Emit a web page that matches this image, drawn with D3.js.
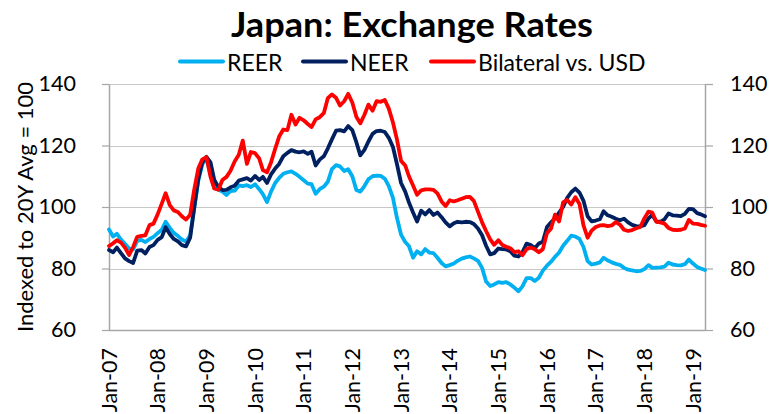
<!DOCTYPE html>
<html>
<head>
<meta charset="utf-8">
<script src="https://cdn.jsdelivr.net/npm/d3@7"></script>
<style>
  body { margin: 0; background: #fff; }
  svg text { font-family: Lato, "Open Sans", sans-serif; fill: #000; }
</style>
</head>
<body>
<svg id="chart" width="777" height="414"></svg>
<script>
// monthly, Jan-07 .. Apr-19
const months = d3.timeMonth.range(new Date(2007, 0, 1), new Date(2019, 4, 1));

const reer = [
  92.7, 90.4, 91.3, 89.4, 88.0, 86.5, 86.2, 89.0, 89.3, 88.6, 89.6, 90.3,
  91.5, 92.6, 95.2, 93.2, 91.6, 90.6, 89.4, 88.8, 90.8, 99.5, 108.5, 113.8,
  116.0, 110.5, 106.4, 105.6, 105.0, 103.9, 105.2, 105.3, 107.0, 106.8, 107.1, 106.5,
  107.4, 105.8, 104.2, 101.6, 105.0, 107.8, 109.5, 110.8, 111.3, 111.6, 110.8, 109.8,
  108.7, 107.6, 107.4, 104.3, 105.8, 106.6, 108.2, 112.3, 113.6, 113.2, 111.7, 112.3,
  110.0, 105.5, 105.0, 106.8, 109.0, 110.0, 110.2, 110.1, 109.2, 106.8, 103.0, 96.5,
  91.0, 88.6, 87.3, 83.5, 85.6, 84.6, 86.3, 85.2, 85.0, 83.5, 81.8, 80.7,
  81.1, 81.6, 82.5, 83.2, 83.6, 83.9, 83.3, 82.5, 80.2, 75.8, 74.3, 74.8,
  75.6, 75.3, 75.6, 74.8, 73.8, 72.6, 74.2, 76.9, 76.9, 75.9, 77.0, 79.3,
  80.9, 82.2, 83.8, 85.2, 87.4, 89.0, 90.7, 90.4, 89.6, 87.0, 82.4, 81.3,
  81.6, 82.0, 83.5, 82.6, 82.0, 81.5, 81.2, 80.2, 79.6, 79.4, 79.1, 79.2,
  79.8, 81.1, 80.2, 80.3, 80.4, 80.6, 81.9, 81.3, 81.1, 81.0, 81.4, 82.9,
  81.6, 80.5, 80.0, 79.5
];

const neer = [
  86.0, 85.3, 86.8, 85.0, 83.3, 82.4, 81.8, 85.8, 86.0, 84.9, 87.0, 87.6,
  89.3, 90.2, 93.4, 91.2, 89.6, 88.8, 87.6, 87.2, 90.0, 99.5, 109.0, 114.5,
  116.3, 114.5, 108.8, 106.5, 105.5, 105.6, 106.4, 106.9, 108.6, 109.0, 109.4, 108.6,
  110.1, 108.8, 109.8, 107.8, 110.6, 112.5, 114.0, 116.5, 117.6, 118.5, 118.0, 117.8,
  118.1, 117.3, 118.0, 113.5, 115.4, 116.5, 119.0, 122.0, 124.8, 125.0, 124.6, 126.3,
  125.0, 121.0, 116.8, 118.6, 121.3, 123.8, 124.7, 124.8, 124.4, 122.5, 119.5, 114.0,
  107.8, 105.0, 101.5, 98.2, 95.3, 98.8, 97.6, 99.0, 97.4, 98.2, 96.7, 95.0,
  93.7, 94.7, 95.2, 95.0, 95.2, 95.1, 94.5, 93.0, 90.8, 87.4, 84.6, 85.0,
  86.5, 86.3, 86.2, 85.6, 84.2, 83.9, 85.3, 88.1, 87.6, 86.6, 88.1, 88.7,
  93.5, 95.0, 96.3, 98.2, 100.0, 103.0, 104.8, 106.0, 104.7, 102.0, 97.0, 95.3,
  95.6, 96.0, 98.6, 97.3, 96.8, 96.2, 95.7, 96.2, 95.0, 94.2, 93.8, 93.7,
  94.1, 96.3, 97.4, 95.3, 95.2, 96.0, 97.9, 97.3, 97.2, 97.0, 97.8, 99.4,
  99.3, 98.0, 97.6, 97.0
];

const bilateralUsd = [
  87.3, 88.2, 89.2, 88.4, 86.8, 84.4, 87.0, 90.3, 90.6, 90.8, 94.1, 94.6,
  97.6, 101.1, 104.5, 100.6, 98.9, 98.4, 97.0, 95.9, 97.5, 105.5, 112.5, 115.5,
  116.2, 109.8, 106.0, 105.6, 108.8, 109.8, 111.8, 114.8, 117.0, 121.6, 114.0, 117.9,
  117.5, 115.8, 112.0, 111.3, 114.5, 118.9, 122.9, 125.2, 125.0, 130.0, 126.8, 129.0,
  128.2, 127.0, 126.0, 128.5, 129.2, 130.5, 135.4, 136.6, 135.5, 133.0, 134.4, 136.8,
  134.0, 129.3, 127.2, 130.0, 133.3, 131.3, 134.4, 134.2, 134.8, 132.0, 127.5, 122.0,
  115.0, 113.5, 110.0, 107.0, 104.0, 105.4, 105.7, 105.7, 105.6, 104.4, 101.8, 100.3,
  102.2, 101.8, 102.2, 102.7, 103.2, 103.3, 102.0, 98.5, 95.0, 92.2, 89.5, 87.7,
  89.2, 87.6, 87.1, 86.6, 85.3, 85.6, 84.3, 86.3, 86.8, 86.3, 85.3, 86.3,
  91.5, 93.0, 97.5, 95.3, 101.5, 102.3, 100.8, 103.2, 101.0, 94.0, 90.0, 92.3,
  93.5, 94.0, 94.1, 93.8, 94.0, 95.1, 94.3, 92.6, 92.2, 92.5, 93.1, 93.5,
  96.3, 98.5, 98.2, 95.2, 95.0, 94.6, 93.2, 92.6, 92.5, 92.6, 93.0, 95.8,
  94.6, 94.5, 94.2, 93.9
];

const yTicks = [60, 80, 100, 120, 140];

const series = [
  { name: "REER", values: reer, color: "#00B0F0" },
  { name: "NEER", values: neer, color: "#002060" },
  { name: "Bilateral vs. USD", values: bilateralUsd, color: "#FF0000" }
];

const svg = d3.select("#chart");
const plotLeft = 109, plotRight = 705, plotTop = 84, plotBottom = 330;

const x = d3.scaleTime()
  .domain([months[0], months[months.length - 1]])
  .range([plotLeft, plotRight]);
const y = d3.scaleLinear().domain([60, 140]).range([plotBottom, plotTop]);

// gridlines
svg.append("g")
  .selectAll("line")
  .data(yTicks.filter(d => d > 60))
  .join("line")
  .attr("x1", plotLeft).attr("x2", plotRight)
  .attr("y1", d => Math.round(y(d)) + 0.5)
  .attr("y2", d => Math.round(y(d)) + 0.5)
  .attr("stroke", "#C8C8C8")
  .attr("stroke-width", 1.2);

// left and right axes
const gLeft = svg.append("g").attr("transform", `translate(${plotLeft},0)`)
  .call(d3.axisLeft(y).tickValues(yTicks).tickSize(7).tickSizeOuter(0).tickPadding(26));
const gRight = svg.append("g").attr("transform", `translate(${plotRight},0)`)
  .call(d3.axisRight(y).tickValues(yTicks).tickSize(8).tickSizeOuter(0).tickPadding(17));

[gLeft, gRight].forEach(g => {
  g.select(".domain").attr("stroke", "#A6A6A6").attr("stroke-width", 1.5);
  g.selectAll(".tick line").attr("stroke", "#A6A6A6").attr("stroke-width", 1.2);
  g.selectAll(".tick text")
    .attr("font-size", 21.5)
    .attr("font-family", "Lato, 'Open Sans', sans-serif")
    .attr("fill", "#000");
});

// bottom axis line
svg.append("line")
  .attr("x1", plotLeft).attr("x2", plotRight)
  .attr("y1", plotBottom + 0.5).attr("y2", plotBottom + 0.5)
  .attr("stroke", "#A6A6A6").attr("stroke-width", 1.5);

// x labels, rotated
const fmt = d3.timeFormat("%b-%y");
const janTicks = months.filter(d => d.getMonth() === 0);
svg.append("g")
  .selectAll("text")
  .data(janTicks)
  .join("text")
  .attr("transform", d => `translate(${x(d)},348) rotate(-90)`)
  .attr("text-anchor", "end")
  .attr("dy", "0.35em")
  .attr("font-size", 21.5)
  .text(d => fmt(d));

// lines
const line = d3.line()
  .x((d, i) => x(months[i]))
  .y(d => y(d));

svg.append("g")
  .selectAll("path")
  .data(series)
  .join("path")
  .attr("d", d => line(d.values))
  .attr("fill", "none")
  .attr("stroke", d => d.color)
  .attr("stroke-width", 3.8)
  .attr("stroke-linejoin", "round")
  .attr("stroke-linecap", "round");

// title
svg.append("text")
  .attr("x", 231).attr("y", 37)
  .attr("font-size", 34)
  .attr("font-weight", "bold")
  .attr("textLength", 362)
  .attr("lengthAdjust", "spacingAndGlyphs")
  .text("Japan: Exchange Rates");

// y axis title
svg.append("text")
  .attr("transform", "translate(33,207) rotate(-90)")
  .attr("text-anchor", "middle")
  .attr("font-size", 22)
  .text("Indexed to 20Y Avg = 100");

// legend
const legendX = [180, 303, 431];
const legend = svg.append("g")
  .selectAll("g")
  .data(series)
  .join("g")
  .attr("transform", (d, i) => `translate(${legendX[i]},0)`);
legend.append("line")
  .attr("x1", 0).attr("x2", 43)
  .attr("y1", 61.5).attr("y2", 61.5)
  .attr("stroke", d => d.color)
  .attr("stroke-width", 4)
  .attr("stroke-linecap", "round");
legend.append("text")
  .attr("x", 47).attr("y", 70.5)
  .attr("font-size", 23)
  .text(d => d.name);
</script>
</body>
</html>
